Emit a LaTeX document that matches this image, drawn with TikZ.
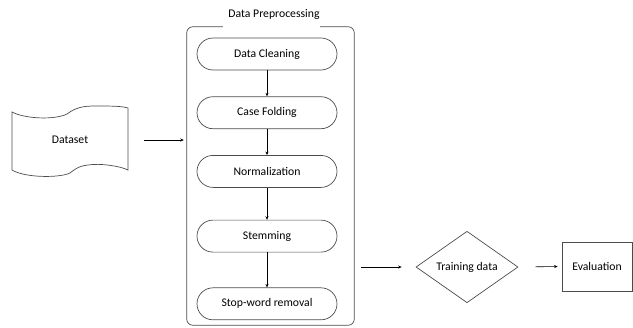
\documentclass[tikz,border=0pt]{standalone}
\usepackage{fontspec}
\setmainfont{Carlito}
\usetikzlibrary{
  shapes.geometric,
  arrows.meta,
  positioning
}

\begin{document}
\begin{tikzpicture}[
        x=0.3mm, y=-0.3mm,
        every node/.style={font=\fontsize{10}{12}\selectfont},
        frame/.style={draw=black!70, line width=0.6pt},
        pill/.style={frame, rectangle, rounded corners=4.8mm, minimum width=42mm, minimum height=9.6mm, inner sep=0pt},
        box/.style={frame, rectangle, minimum width=21mm, minimum height=14.7mm},
        decision/.style={frame, diamond, minimum width=30.6mm, minimum height=20.1mm, inner sep=0pt},
        arrow/.style={line width=0.5pt, -{Stealth[length=3pt, width=2.6pt]}}
    ]
    \useasboundingbox (0,0) rectangle (633,327);

    % Nodes
    \node[minimum width=34.8mm, minimum height=17.4mm, inner sep=0pt] (data) at (70,140) {Dataset};
    \node[minimum width=50.1mm, minimum height=89.4mm, inner sep=0pt] (prep) at (270.5,176) {};
    \node (title) at (274,14) {Data Preprocessing};
    \node[pill] (clean) at (267,54) {Data Cleaning};
    \node[pill, below=7.8mm of clean] (fold) {Case Folding};
    \node[pill, below=7.8mm of fold] (norm) {Normalization};
    \node[pill, below=9.6mm of norm] (stem) {Stemming};
    \node[pill, below=10.5mm of stem] (stop) {Stop-word removal};
    \node[decision] (train) at (467,267) {Training data};
    \node[box] (eval) at (597,266.5) {Evaluation};

    % Dataset outline
    \draw[frame] (12,112) .. controls (25,119) and (55,120) .. (67,114)
        .. controls (75,108) and (82,106) .. (95,106)
        .. controls (110,106) and (122,106) .. (128,108) -- (128,170)
        .. controls (120,166) and (100,163) .. (88,165)
        .. controls (78,166) and (74,170) .. (70,173)
        .. controls (60,178) and (25,178) .. (12,170) -- cycle;

    % Preprocessing frame
    \draw[frame, rounded corners=1.8mm] ([xshift=10.8mm]prep.north west) -- (prep.north west)
        -- (prep.south west) -- (prep.south east) -- (prep.north east)
        -- ([xshift=-10.2mm]prep.north east);

    % Arrows
    \draw[arrow, shorten <=4.8mm, shorten >=0.9mm] (data.east) -- (data.east -| prep.west);
    \draw[arrow] (clean) -- (fold);
    \draw[arrow] (fold) -- (norm);
    \draw[arrow] (norm) -- (stem);
    \draw[arrow] (stem) -- (stop);
    \draw[arrow, shorten <=2.1mm, shorten >=4.2mm] (train.west -| prep.east) -- (train.west);
    \draw[arrow, shorten <=5.1mm, shorten >=1.2mm] (train.east) -- (eval.west);
\end{tikzpicture}
\end{document}
